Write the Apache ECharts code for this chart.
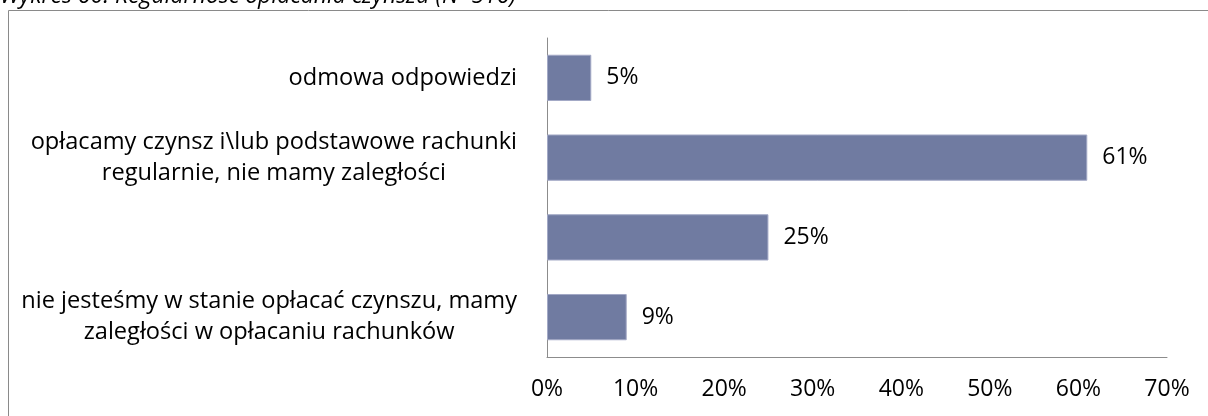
<!DOCTYPE html>
<html><head><meta charset="utf-8">
<script src="https://cdn.jsdelivr.net/npm/echarts@6/dist/echarts.min.js"></script>
<style>html,body{margin:0;padding:0;background:#fff}#c{width:1208px;height:416px}</style>
</head><body><div id="c"></div>
<script>
const titleText = 'Wykres 60. Regularność opłacania czynszu (N=516)';
const categories = [
  'nie jesteśmy w stanie opłacać czynszu, mamy\nzaległości w opłacaniu rachunków',
  '',
  'opłacamy czynsz i\\lub podstawowe rachunki\nregularnie, nie mamy zaległości',
  'odmowa odpowiedzi'
];
const values = [9, 25, 61, 5];
const axisTicks = [0, 10, 20, 30, 40, 50, 60, 70];

const FONT = '"Open Sans", sans-serif';
const FS = 23;
const FSC = 23.6;
const chart = echarts.init(document.getElementById('c'), null, {renderer: 'canvas'});
chart.setOption({
  animation: false,
  graphic: [
    {type: 'rect', shape: {x: 8.5, y: 10.5, width: 1400, height: 600}, style: {fill: 'none', stroke: '#8a8a8a', lineWidth: 1}, silent: true},
    {type: 'text', x: 0, y: 8, style: {text: titleText, font: 'italic ' + FS + 'px ' + FONT, fill: '#000', verticalAlign: 'bottom'}}
  ],
  grid: {left: 547, right: 41, top: 38, bottom: 59, containLabel: false},
  xAxis: {
    type: 'value', min: axisTicks[0], max: axisTicks[axisTicks.length - 1], interval: 10,
    axisLine: {show: true, lineStyle: {color: '#8c8c8c', width: 1}},
    axisTick: {show: false}, splitLine: {show: false},
    axisLabel: {formatter: v => v + '%', color: '#000', fontFamily: FONT, fontSize: FS, margin: 21}
  },
  yAxis: {
    type: 'category', data: categories,
    axisLine: {show: true, lineStyle: {color: '#8c8c8c', width: 1}},
    axisTick: {show: false},
    axisLabel: {
      margin: 30, color: '#000', fontFamily: FONT, fontSize: FSC, lineHeight: 31,
      formatter: v => v.split('\n').map(l => '{c|' + l + '}').join('\n'),
      rich: {c: {align: 'center', fontFamily: FONT, fontSize: FSC, lineHeight: 31, color: '#000'}}
    }
  },
  series: [{
    type: 'bar', data: values, barWidth: '58%',
    itemStyle: {color: '#707ba1', borderColor: '#a3a9c6', borderWidth: 1},
    label: {show: true, position: 'right', distance: 15, formatter: p => p.value + '%', color: '#000', fontFamily: FONT, fontSize: FS}
  }]
});
</script></body></html>
